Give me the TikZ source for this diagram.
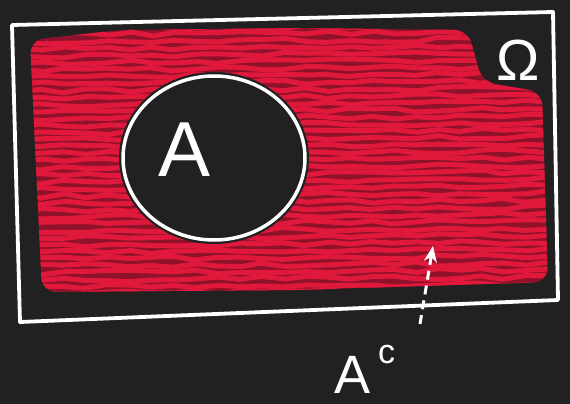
\documentclass[tikz,border=0pt]{standalone}
\usepackage{fontspec}
\setmainfont{Liberation Sans}
\usetikzlibrary{shapes.geometric,arrows.meta,decorations.pathmorphing}
\definecolor{bg}{HTML}{212121}
\definecolor{scr}{HTML}{E0193C}
\definecolor{scrdark}{HTML}{8E1229}
\tikzset{
  scribble/.style={draw=scr, line width=5pt, line cap=round, decorate,
    decoration={random steps, segment length=22, amplitude=2.2}},
  chalk/.style={draw=white, line width=3.8pt, line join=round, line cap=round},
  txt/.style={text=white, inner sep=0pt}
}
\begin{document}
\begin{tikzpicture}[x=1pt,y=-1pt]
\fill[bg] (0,0) rectangle (570,404);
\useasboundingbox (0,0) rectangle (570,404);

% red scribble region
\begin{scope}
\clip[rounded corners=14] (30,40) -- (120,30) -- (300,28) -- (468,30) -- (482,82) -- (542,92) -- (548,282) -- (300,290) -- (42,292) -- cycle;
\fill[scrdark] (0,0) rectangle (570,404);
\foreach \y in {28,35,...,300} \draw[scribble] (20,\y) -- (560,\y-3);
\end{scope}

% set A (dark inside)
\fill[bg] (214,158) ellipse [x radius=95, y radius=86];
\node[draw=white, line width=3.5pt, ellipse, minimum width=182, minimum height=164, inner sep=0pt] (setA) at (214,158) {};

% sample space rectangle
\coordinate (tl) at (12,25);
\coordinate (tr) at (553,12);
\coordinate (br) at (558,300);
\coordinate (bl) at (20,322);
\draw[chalk] (tl) -- (tr) -- (br) -- (bl) -- cycle;

% labels
\node[txt, font=\fontsize{78}{78}\selectfont] (lblA) at (185,150) {A};
\node[txt, font=\fontsize{58}{58}\selectfont] (omega) at (518,60) {Ω};
\node[txt, font=\fontsize{54}{54}\selectfont, anchor=base west] (lblAc) at (334,393) {A\hspace{8pt}\raisebox{0.55em}{\fontsize{34}{34}\selectfont c}};

% dashed arrow
\coordinate (arS) at (420,324);
\coordinate (arE) at (433,246);
\draw[white, line width=3pt, dash pattern=on 9pt off 6pt, -{Stealth[length=16pt,width=13pt]}] (arS) -- (arE);
\end{tikzpicture}
\end{document}
